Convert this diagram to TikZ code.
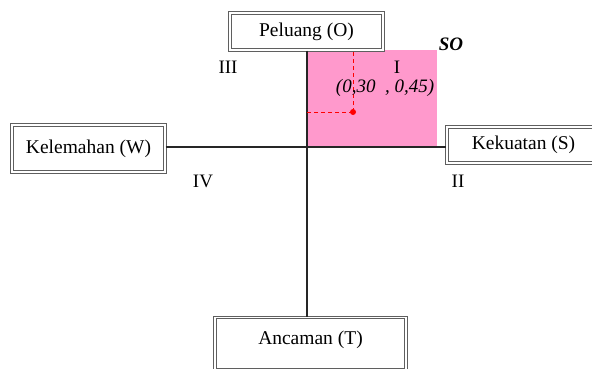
\documentclass[tikz,border=0pt]{standalone}
\usepackage{fontspec}
\setmainfont{Liberation Serif}
\definecolor{boxgray}{RGB}{95,95,95}
\definecolor{quadpink}{RGB}{255,153,204}
\tikzset{
  swotbox/.style={draw=boxgray, line width=1.2pt, double=white, double distance=1.1pt, fill=white, inner sep=0pt, font=\fontsize{19.5}{22}\selectfont},
  axis/.style={line width=1.7pt, black!85},
  guide/.style={red, dash pattern=on 4pt off 3pt, line width=1pt},
  lbl/.style={font=\fontsize{19}{22}\selectfont, inner sep=0pt}
}
\begin{document}
\begin{tikzpicture}[x=1pt,y=-1pt]
\useasboundingbox (0,0) rectangle (592,369);
% quadrant fill
\fill[quadpink] (307,50) rectangle (437,147);
% axes
\coordinate (c) at (307,147);
\node[swotbox, minimum width=153, minimum height=37] (O) at (306.5,31.5) {Peluang (O)};
\node[swotbox, minimum width=153, minimum height=47] (W) at (88.5,148.5) {Kelemahan (W)};
\node[swotbox, minimum width=153, minimum height=36] (S) at (523.5,145) {Kekuatan (S)};
\node[swotbox, anchor=north, minimum width=191, text height=27pt, text depth=25pt] (T) at (310.5,317) {Ancaman (T)};
\draw[axis] (O.south -| c) -- (T.north -| c);
\draw[axis] (W.east |- c) -- (S.west |- c);
% point
\coordinate (p) at (353,112);
\draw[guide] (p) -- (p |- O.south);
\draw[guide] (p) -- (p -| c);
\fill[red] (p) circle (3);
% labels
\node[lbl] (q1) at (397,67) {I};
\node[lbl] (pt) at (385,88) {\itshape (0,30\ \ , 0,45)};
\node[lbl] (so) at (451,44) {\bfseries\itshape SO};
\node[lbl] (q3) at (228,67) {III};
\node[lbl] (q4) at (203,181) {IV};
\node[lbl] (q2) at (458,181) {II};
\end{tikzpicture}
\end{document}
